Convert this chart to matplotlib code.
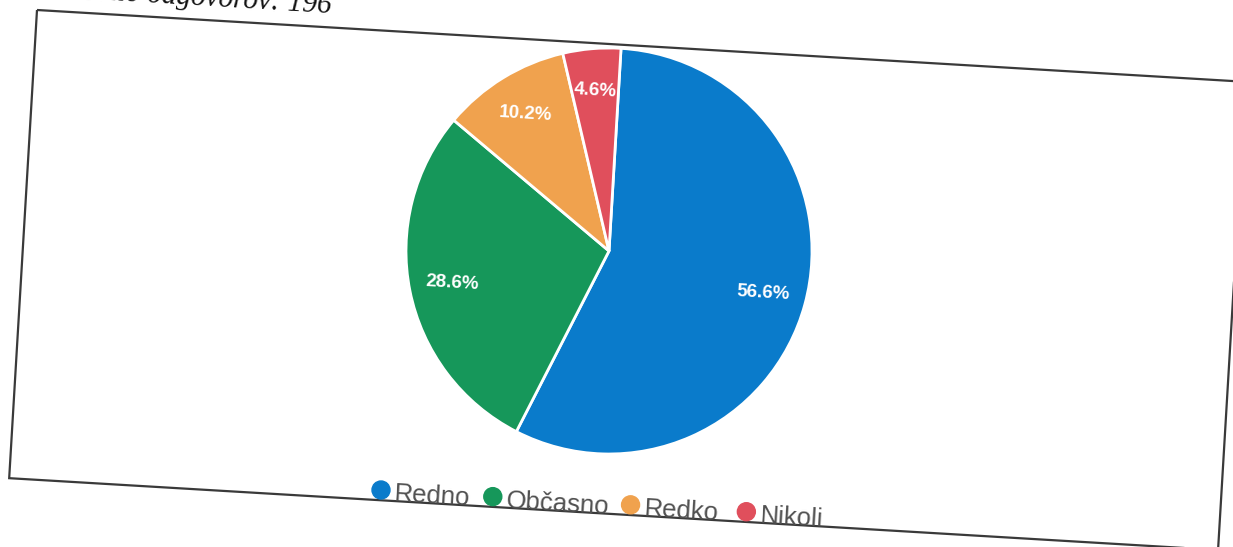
import numpy as np
import matplotlib
matplotlib.use("Agg")
import matplotlib.pyplot as plt
from matplotlib.patches import Circle, Polygon

# data
categories = ["Redno", "Občasno", "Redko", "Nikoli"]
shares = [56.6, 28.6, 10.2, 4.6]
colors = ["#0a7bcb", "#16975a", "#f0a24e", "#e04f5c"]
subtitle = "Število odgovorov: 196"

W, H = 1233, 547
tilt = 3.4  # the scanned page is slightly rotated (clockwise)
th = np.radians(tilt)
u = np.array([np.cos(th), np.sin(th)])    # along page, pixel coords (y down)
v = np.array([-np.sin(th), np.cos(th)])   # down page


def px(p):
    # pixel (y down) -> data (y up)
    return (p[0], H - p[1])


fig = plt.figure(figsize=(W / 100, H / 100), dpi=100)
ax = fig.add_axes([0, 0, 1, 1])

wedges, texts, autotexts = ax.pie(
    shares, colors=colors, startangle=90 - tilt, counterclock=False,
    center=px((609, 251)), radius=203, autopct="%.1f%%", pctdistance=0.79,
    wedgeprops=dict(edgecolor="white", linewidth=2),
    textprops=dict(color="white", fontsize=13.5, fontweight="bold",
                   family="Liberation Sans"))
for t in autotexts:
    t.set_rotation(-tilt)
    t.set_rotation_mode("anchor")

# tilted frame of the scanned chart
tl = np.array([37.0, 10.0])
fw, fh = 1211, 469
corners = [tl, tl + fw * u, tl + fw * u + fh * v, tl + fh * v]
ax.add_patch(Polygon([px(c) for c in corners], closed=True, fill=False,
                     edgecolor="#3a3a3a", linewidth=1.6, zorder=5))

# legend, drawn along the tilted bottom
p0 = np.array([381.0, 490.0])
offsets = [0, 112, 250, 366]
for name, col, off in zip(categories, colors, offsets):
    c = p0 + off * u
    ax.add_patch(Circle(px(c), 9, color=col, zorder=6))
    tpos = c + 14 * u + 10.5 * v
    ax.text(*px(tpos), name, fontsize=18.5, color="#505050",
            family="Liberation Sans", ha="left", va="baseline",
            rotation=-tilt, rotation_mode="anchor", zorder=6)

# subtitle, mostly cut off at the top of the scan
ax.text(*px((331, 13)), subtitle, fontsize=21, style="italic",
        family="Liberation Serif", color="#111111", ha="right",
        va="baseline", rotation=-tilt, rotation_mode="anchor")

ax.set_xlim(0, W)
ax.set_ylim(0, H)
ax.set_aspect("auto")
ax.axis("off")

fig.savefig("out.png", dpi=100, facecolor="white")
